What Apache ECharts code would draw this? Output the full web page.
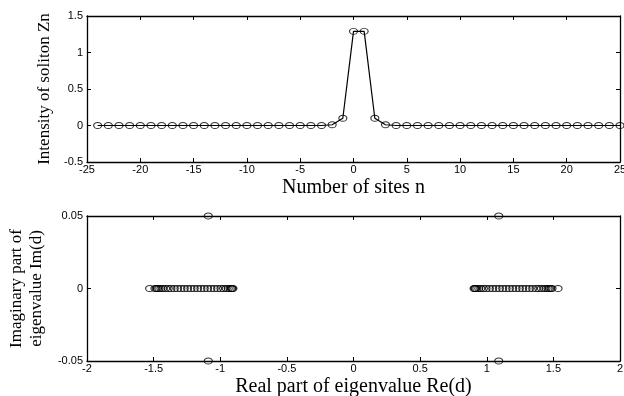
<!DOCTYPE html>
<html>
<head>
<meta charset="utf-8">
<script src="https://cdn.jsdelivr.net/npm/echarts@6/dist/echarts.min.js"></script>
<style>
  html, body { margin: 0; padding: 0; background: #fff; }
  #main { width: 624px; height: 396px; }
</style>
</head>
<body>
<div id="main"></div>
<script>
// top panel: soliton intensity per site
var sites = [-24, -23, -22, -21, -20, -19, -18, -17, -16, -15, -14, -13, -12, -11, -10, -9, -8, -7, -6, -5,
  -4, -3, -2, -1, 0, 1, 2, 3, 4, 5, 6, 7, 8, 9, 10, 11, 12, 13, 14, 15, 16, 17, 18, 19, 20, 21, 22, 23, 24, 25];
var intensity = [0, 0, 0, 0, 0, 0, 0, 0, 0, 0, 0, 0, 0, 0, 0, 0, 0, 0, 0, 0,
  0, 0, 0.01, 0.1, 1.29, 1.29, 0.1, 0.01, 0, 0, 0, 0, 0, 0, 0, 0, 0, 0, 0, 0, 0, 0, 0, 0, 0, 0, 0, 0, 0, 0];

// bottom panel: eigenvalues (real part, imaginary part)
var realEig = [-1.53, -1.49, -1.48, -1.47, -1.46, -1.445, -1.43, -1.41, -1.39, -1.37, -1.345, -1.32, -1.295,
  -1.27, -1.245, -1.22, -1.195, -1.17, -1.145, -1.12, -1.095, -1.07, -1.045, -1.02, -0.995, -0.975, -0.955,
  -0.94, -0.925, -0.915, -0.91, -0.905,
  0.905, 0.91, 0.915, 0.925, 0.94, 0.955, 0.975, 0.995, 1.02, 1.045, 1.07, 1.095, 1.12, 1.145, 1.17, 1.195,
  1.22, 1.245, 1.27, 1.295, 1.32, 1.345, 1.37, 1.39, 1.41, 1.43, 1.445, 1.46, 1.47, 1.48, 1.49, 1.535,
  -1.09, -1.09, 1.09, 1.09];
var imagEig = [0, 0, 0, 0, 0, 0, 0, 0, 0, 0, 0, 0, 0, 0, 0, 0, 0, 0, 0, 0, 0, 0, 0, 0, 0, 0, 0, 0, 0, 0, 0, 0,
  0, 0, 0, 0, 0, 0, 0, 0, 0, 0, 0, 0, 0, 0, 0, 0, 0, 0, 0, 0, 0, 0, 0, 0, 0, 0, 0, 0, 0, 0, 0, 0,
  0.05, -0.05, 0.05, -0.05];

var topXTicks = [-25, 25, 5];
var topYTicks = [-0.5, 1.5, 0.5];
var botXTicks = [-2, 2, 0.5];
var botYTicks = [-0.05, 0.05, 0.05];

var chart = echarts.init(document.getElementById('main'));

var tickFont = { fontFamily: 'Liberation Sans', fontSize: 11, color: '#000' };
var titleFont = { fontFamily: 'Liberation Serif', fontSize: 20, color: '#000' };
var yTitleFont = { fontFamily: 'Liberation Serif', fontSize: 17, color: '#000' };
var axisLine = { show: true, onZero: false, lineStyle: { color: '#000', width: 1.3 } };
var axisTick = { show: true, inside: true, length: 4, lineStyle: { color: '#000' } };

function valAxis(gi, pos, t, showLabel, extra) {
  var a = {
    type: 'value', gridIndex: gi, position: pos,
    min: t[0], max: t[1], interval: t[2],
    axisLine: axisLine, axisTick: axisTick,
    axisLabel: Object.assign({ show: showLabel, margin: 4 }, tickFont),
    splitLine: { show: false }
  };
  return Object.assign(a, extra || {});
}

var pairs = realEig.map(function (r, i) { return [r, imagEig[i]]; });
var topPts = sites.map(function (n, i) { return [n, intensity[i]]; });

var marker = { color: 'transparent', borderColor: '#000', borderWidth: 1 };

chart.setOption({
  animation: false,
  backgroundColor: '#fff',
  grid: [
    { left: 87, right: 4, top: 16, height: 146, outerBoundsMode: 'none', containLabel: false },
    { left: 87, right: 4, top: 216, height: 145, outerBoundsMode: 'none', containLabel: false }
  ],
  xAxis: [
    valAxis(0, 'bottom', topXTicks, true, {
      name: 'Number of sites n', nameLocation: 'middle', nameGap: 16, nameTextStyle: titleFont,
      axisLabel: Object.assign({ show: true, margin: 2 }, tickFont)
    }),
    valAxis(0, 'top', topXTicks, false),
    valAxis(1, 'bottom', botXTicks, true, {
      name: 'Real part of eigenvalue Re(d)', nameLocation: 'middle', nameGap: 16, nameTextStyle: titleFont,
      axisLabel: Object.assign({ show: true, margin: 2 }, tickFont)
    }),
    valAxis(1, 'top', botXTicks, false)
  ],
  yAxis: [
    valAxis(0, 'left', topYTicks, true, {
      name: 'Intensity of soliton Zn', nameLocation: 'middle', nameGap: 34, nameRotate: 90,
      nameTextStyle: yTitleFont
    }),
    valAxis(0, 'right', topYTicks, false),
    valAxis(1, 'left', botYTicks, true, {
      name: 'Imaginary part of\neigenvalue Im(d)', nameLocation: 'middle', nameGap: 38, nameRotate: 90,
      nameTextStyle: Object.assign({ lineHeight: 20 }, yTitleFont)
    }),
    valAxis(1, 'right', botYTicks, false)
  ],
  series: [
    {
      type: 'line', xAxisIndex: 0, yAxisIndex: 0, data: topPts,
      showSymbol: false, lineStyle: { color: '#000', width: 1.2 }, clip: false
    },
    {
      type: 'scatter', xAxisIndex: 0, yAxisIndex: 0, data: topPts,
      symbol: 'circle', symbolSize: [8, 6], itemStyle: marker, clip: false
    },
    {
      type: 'scatter', xAxisIndex: 2, yAxisIndex: 2, data: pairs,
      symbol: 'circle', symbolSize: [8, 6], itemStyle: marker, clip: false
    }
  ]
});
</script>
</body>
</html>
